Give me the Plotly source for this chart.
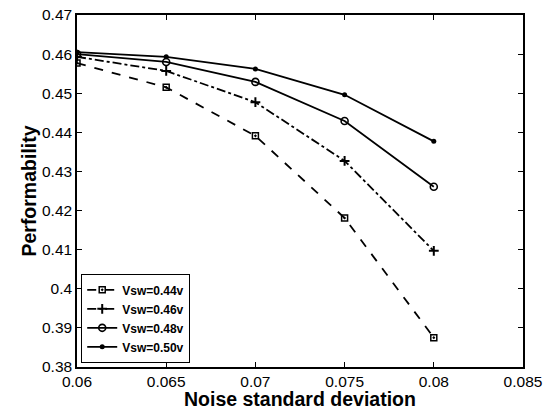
import plotly.graph_objects as go

noise = [0.06, 0.065, 0.07, 0.075, 0.08]
v044 = [0.4577, 0.4515, 0.4391, 0.4181, 0.3875]
v046 = [0.4593, 0.4557, 0.4477, 0.4327, 0.4097]
v048 = [0.4600, 0.4580, 0.4529, 0.4429, 0.4261]
v050 = [0.4605, 0.4593, 0.4562, 0.4496, 0.4377]
names = ["Vsw=0.44v", "Vsw=0.46v", "Vsw=0.48v", "Vsw=0.50v"]
x_title = "Noise standard deviation"
y_title = "Performability"

series = [v044, v046, v048, v050]
dashes = ["dash", "dashdot", "solid", "solid"]
markers = [
    dict(symbol="square-open-dot", size=6, color="black", line=dict(width=1.5, color="black")),
    dict(symbol="cross-thin-open", size=7, color="black", line=dict(width=2, color="black")),
    dict(symbol="circle-open", size=7, color="black", line=dict(width=1.6, color="black")),
    dict(symbol="circle", size=5, color="black"),
]

fig = go.Figure()
for ys, nm, d, m in zip(series, names, dashes, markers):
    fig.add_trace(go.Scatter(x=noise, y=ys, name=nm, mode="lines+markers",
                             line=dict(color="black", width=1.8, dash=d), marker=m))

FONT = "Liberation Sans, Arial"
axis_common = dict(showline=True, linecolor="black", linewidth=1.5, mirror="ticks",
                   ticks="inside", ticklen=5, tickcolor="black", showgrid=False,
                   zeroline=False, automargin=False,
                   tickfont=dict(family=FONT, size=15.5, color="black"))

fig.update_layout(
    width=556, height=411,
    margin=dict(l=77, r=33, t=15, b=44, autoexpand=False),
    plot_bgcolor="white", paper_bgcolor="white",
    xaxis=dict(range=[0.06, 0.085], dtick=0.005, tick0=0.06, **axis_common),
    yaxis=dict(range=[0.38, 0.47], dtick=0.01, tick0=0.38,
               title=dict(text="<b>" + y_title + "</b>", standoff=0,
                          font=dict(family=FONT, size=19.5, color="black")),
               **axis_common),
    legend=dict(x=0.009, y=0.011, xanchor="left", yanchor="bottom",
                bordercolor="black", borderwidth=1.2, bgcolor="white",
                font=dict(family=FONT, size=12, color="black", weight="bold"),
                itemwidth=30, tracegroupgap=0),
    showlegend=True,
    annotations=[dict(text="<b>" + x_title + "</b>", xref="paper", yref="paper",
                      x=0.5, y=0, xanchor="center", yanchor="middle", yshift=-32,
                      showarrow=False, font=dict(family=FONT, size=19.5, color="black"))],
)

fig.write_html("out.html", config={"displayModeBar": False},
               post_script="document.body.style.margin='0';")
